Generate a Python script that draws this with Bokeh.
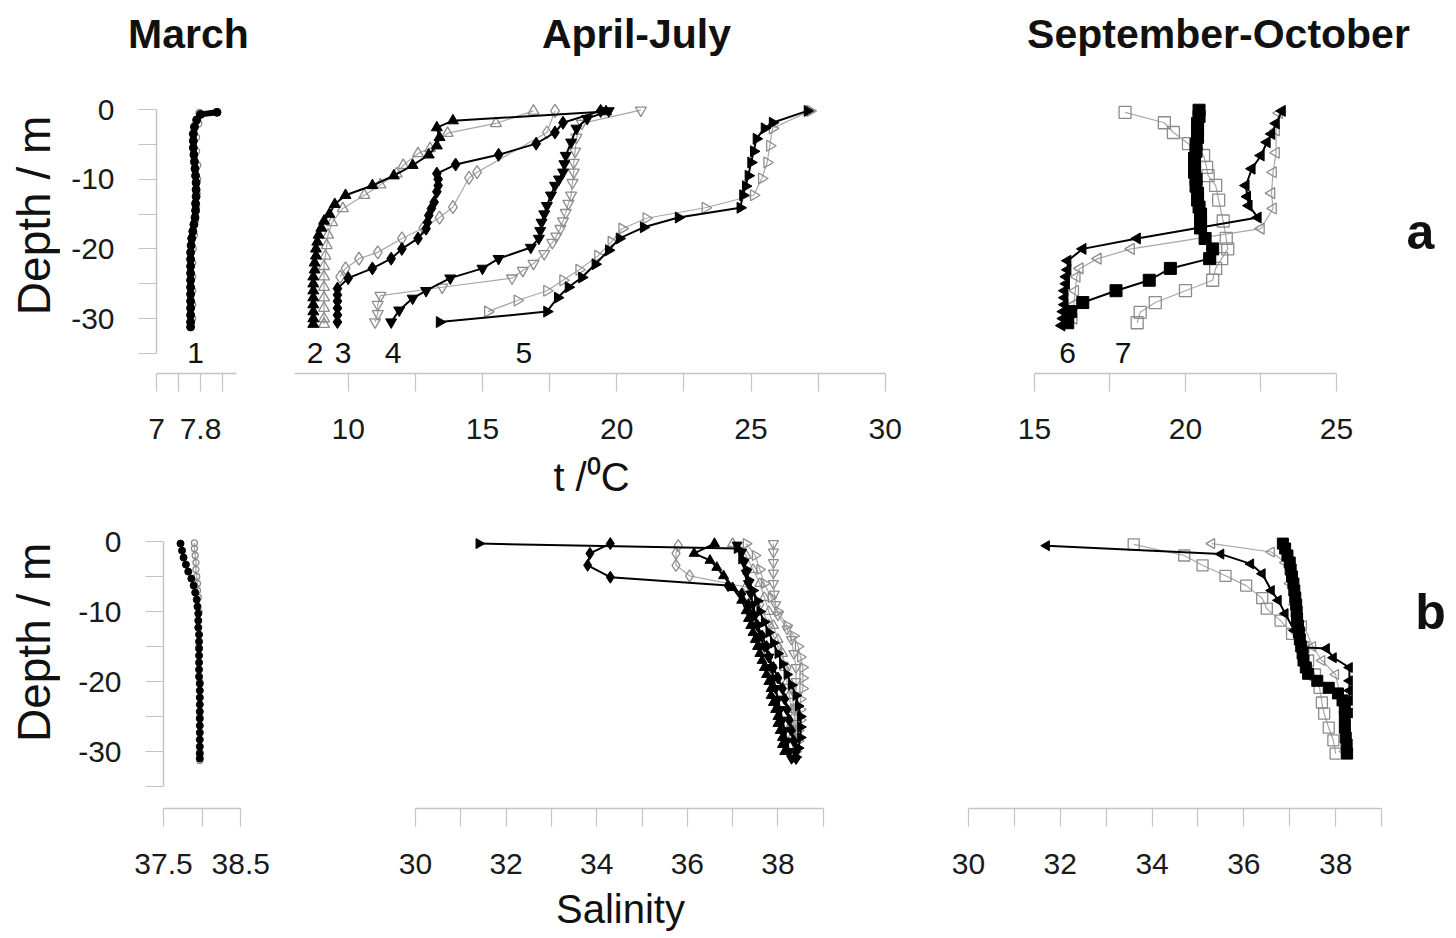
import math
from bokeh.plotting import figure
from bokeh.layouts import column, row
from bokeh.models import Range1d, FixedTicker, Label, NumeralTickFormatter
from bokeh.core.properties import value
from bokeh.embed import file_html
from bokeh.resources import INLINE

FONT = "Liberation Sans"
AXC = "#c4c4c4"

# ---------------- DATA ----------------
# March temperature (profile 1)
mar_t_depth = [-0.4, -0.7, -1.5, -2.5, -3.5, -4.5, -5.5, -6.5, -7.5, -8.5, -9.5, -10.5, -11.5, -12.5, -13.5, -14.5,
               -15.5, -16.5, -17.5, -18.5, -19.5, -20.5, -21.5, -22.5, -23.5, -24.5, -25.5, -26.5, -27.5, -28.5,
               -29.5, -30.5, -31.2]
mar_t_fill = [8.10, 7.80, 7.73, 7.69, 7.67, 7.67, 7.67, 7.68, 7.69, 7.70, 7.71, 7.72, 7.72, 7.72, 7.71, 7.71,
              7.70, 7.68, 7.66, 7.64, 7.63, 7.62, 7.62, 7.62, 7.62, 7.62, 7.62, 7.62, 7.62, 7.62,
              7.62, 7.62, 7.62]
mar_t_depth_o = [-0.5, -2, -4, -6, -8, -10, -12, -14, -16, -18, -20, -22, -24, -26, -28, -30]
mar_t_open = [7.78, 7.76, 7.72, 7.72, 7.74, 7.74, 7.73, 7.72, 7.70, 7.68, 7.66, 7.65, 7.65, 7.65, 7.65, 7.65]

# April-July temperature (profiles 2-5)
apr_t2f_d = [-0.3, -1.6, -2.6, -4.0, -5.2, -6.5, -8.0, -9.5, -10.9, -12.3, -13.6, -15.0, -16.0, -17.0, -18.0, -19.0,
             -20.0, -21.0, -22.0, -23.0, -24.0, -25.0, -26.0, -27.0, -28.0, -29.0, -30.0, -30.8]
apr_t2f = [19.6, 13.9, 13.3, 13.4, 13.3, 13.0, 12.4, 11.7, 10.9, 9.9, 9.5, 9.3, 9.1, 9.0, 8.9, 8.85,
           8.8, 8.8, 8.75, 8.75, 8.7, 8.7, 8.7, 8.7, 8.7, 8.7, 8.7, 8.7]
apr_t2o_d = [-0.2, -2.0, -3.4, -5.6, -6.3, -8.0, -9.2, -10.8, -12.3, -14.2, -16.2, -18.0, -19.5, -21.0, -22.5,
             -24.0, -25.5, -27.0, -28.5, -30.0, -30.8]
apr_t2o = [16.9, 15.5, 13.7, 13.05, 12.6, 12.05, 11.8, 11.2, 10.6, 9.8, 9.4, 9.25, 9.2, 9.15, 9.1,
           9.1, 9.1, 9.1, 9.1, 9.1, 9.1]
apr_t3f_d = [-0.2, -1.9, -3.3, -4.9, -6.5, -7.9, -9.2, -10.0, -10.9, -11.8, -13.3, -14.2, -15.2, -16.2, -17.1,
             -18.5, -20.0, -21.4, -22.8, -24.2, -25.7, -26.6, -27.5, -28.5, -29.5, -30.5]
apr_t3f = [19.4, 18.0, 17.7, 17.0, 15.6, 14.0, 13.3, 13.35, 13.35, 13.3, 13.2, 13.1, 13.0, 12.95, 12.9,
           12.6, 12.0, 11.6, 10.9, 10.0, 9.6, 9.6, 9.6, 9.6, 9.6, 9.6]
apr_t3o_d = [-0.2, -3.3, -9.0, -9.8, -14.0, -15.5, -17.0, -18.5, -20.5, -21.4, -22.8, -24.0]
apr_t3o = [17.7, 17.4, 14.8, 14.5, 13.9, 13.4, 12.8, 12.0, 11.1, 10.4, 9.9, 9.7]
apr_t4f_d = [-0.2, -1.3, -2.7, -4.7, -6.6, -7.8, -9.0, -10.0, -10.9, -12.3, -13.8, -15.0, -16.2, -17.4, -18.5,
             -19.8, -21.4, -22.8, -24.2, -26.0, -27.1, -28.8, -30.5]
apr_t4f = [19.7, 18.9, 18.5, 18.3, 18.1, 18.05, 18.0, 17.85, 17.7, 17.55, 17.4, 17.3, 17.2, 17.15, 17.1,
           16.8, 15.6, 15.0, 13.8, 12.9, 12.4, 11.9, 11.6]
apr_t4o_d = [-0.1, -2.0, -4.0, -6.0, -7.6, -9.0, -10.5, -12.3, -13.5, -14.8, -16.0, -17.1, -18.2, -19.1, -20.7,
             -22.1, -23.1, -24.2, -25.5, -26.7, -28.0, -29.3, -30.5]
apr_t4o = [20.9, 18.7, 18.5, 18.45, 18.4, 18.4, 18.35, 18.3, 18.2, 18.1, 18.0, 17.9, 17.75, 17.6, 17.3,
           16.9, 16.5, 16.1, 13.5, 11.2, 11.1, 11.1, 11.0]
apr_t5f_d = [-0.2, -1.9, -2.7, -4.2, -6.0, -7.6, -9.5, -11.0, -12.3, -14.1, -15.5, -16.9, -18.5, -20.2, -22.2,
             -24.1, -25.5, -27.0, -29.0, -30.5]
apr_t5f = [27.1, 25.8, 25.5, 25.2, 25.1, 25.0, 24.9, 24.8, 24.7, 24.6, 22.3, 21.0, 20.1, 19.7, 19.2,
           18.7, 18.2, 17.8, 17.4, 13.4]
apr_t5o_d = [-0.2, -2.7, -5.2, -7.6, -9.9, -12.3, -14.1, -15.6, -17.1, -19.0, -21.0, -23.0, -24.5, -26.0,
             -27.4, -29.0]
apr_t5o = [27.2, 25.8, 25.7, 25.6, 25.4, 25.1, 23.3, 21.1, 20.2, 19.8, 19.3, 18.6, 18.0, 17.4,
           16.3, 15.2]

# September-October temperature (profiles 6-7)
sep_t6f_d = [-0.2, -2.0, -3.5, -4.7, -6.6, -8.5, -10.9, -12.5, -13.8, -15.5, -18.5, -20.0, -21.7, -23.0, -24.0,
             -25.0, -26.0, -27.0, -28.0, -29.0, -30.0, -31.0]
sep_t6f = [23.2, 23.0, 22.85, 22.7, 22.5, 22.2, 22.0, 22.05, 22.1, 22.4, 18.4, 16.6, 16.1, 16.1, 16.05,
           16.05, 16.0, 16.0, 16.0, 15.95, 15.95, 15.9]
sep_t6o_d = [-0.5, -3.0, -6.2, -9.0, -12.0, -14.2, -17.1, -20.0, -21.4, -22.8, -24.0, -26.0, -28.0, -30.0]
sep_t6o = [23.1, 23.0, 23.0, 22.9, 22.85, 22.9, 22.5, 18.2, 17.1, 16.5, 16.4, 16.35, 16.3, 16.3]
sep_t7f_d = [-0.1, -1.0, -2.0, -3.0, -4.0, -5.0, -6.0, -7.0, -8.0, -9.0, -10.0, -11.0, -12.0, -13.0, -14.0,
             -15.0, -16.0, -17.0, -18.5, -20.0, -21.4, -22.8, -24.5, -26.0, -27.7, -29.0, -30.6]
sep_t7f = [20.45, 20.45, 20.4, 20.4, 20.4, 20.35, 20.35, 20.3, 20.3, 20.3, 20.35, 20.35, 20.4, 20.4, 20.45,
           20.5, 20.5, 20.5, 20.65, 20.9, 20.8, 19.5, 18.8, 17.7, 16.6, 16.2, 16.1]
sep_t7o_d = [-0.4, -1.9, -3.3, -4.9, -6.6, -8.3, -9.5, -10.9, -13.0, -16.0, -18.5, -20.0, -21.4, -22.8, -24.5,
             -26.0, -27.7, -29.1, -30.6]
sep_t7o = [18.0, 19.3, 19.6, 20.1, 20.6, 20.7, 20.75, 21.0, 21.1, 21.25, 21.35, 21.4, 21.2, 21.0, 20.9,
           20.0, 19.0, 18.5, 18.4]

# March salinity
mar_s_depth = [-0.3, -1.3, -2.3, -3.3, -4.3, -5.3, -6.3, -7.3, -8.3, -9.3, -10.3, -11.3, -12.3, -13.3, -14.3,
               -15.3, -16.3, -17.3, -18.3, -19.3, -20.3, -21.3, -22.3, -23.3, -24.3, -25.3, -26.3, -27.3, -28.3,
               -29.3, -30.3, -31.0]
mar_s_fill = [37.72, 37.74, 37.76, 37.79, 37.82, 37.86, 37.89, 37.91, 37.93, 37.94, 37.95, 37.95, 37.95, 37.96,
              37.96, 37.96, 37.96, 37.96, 37.96, 37.96, 37.97, 37.97, 37.97, 37.97, 37.97, 37.97, 37.97, 37.97,
              37.97, 37.97, 37.97, 37.97]
mar_s_depth_o = [-0.2, -1, -2, -3, -4, -5, -6, -7, -8, -10, -15, -20, -25, -30, -31.3]
mar_s_open = [37.9, 37.9, 37.91, 37.92, 37.92, 37.93, 37.94, 37.94, 37.95, 37.96, 37.96, 37.97, 37.97, 37.97, 37.97]

# April-July salinity
apr_s2f_d = [-0.3, -1.7, -2.7, -3.7, -4.9, -6.6, -8.4, -9.9, -11.0, -12.0, -13.0, -14.0, -15.0, -16.0, -17.0,
             -18.0, -19.0, -20.0, -21.0, -22.0, -23.0, -24.0, -25.0, -26.0, -27.0, -28.0, -29.0, -30.0]
apr_s2f = [36.6, 36.15, 36.5, 36.65, 36.8, 37.0, 37.2, 37.3, 37.35, 37.4, 37.45, 37.5, 37.55, 37.6, 37.65,
           37.7, 37.75, 37.8, 37.85, 37.85, 37.9, 37.95, 38.0, 38.0, 38.05, 38.1, 38.1, 38.15]
apr_s2o_d = [-0.3, -2, -4, -6, -8, -10, -12, -14, -16, -18, -20, -22, -24, -26, -28, -30]
apr_s2o = [37.0, 37.3, 37.45, 37.6, 37.7, 37.8, 37.9, 38.0, 38.1, 38.15, 38.2, 38.25, 38.3, 38.3, 38.3, 38.35]
apr_s3f_d = [-0.3, -1.7, -3.4, -5.1, -6.3, -7.5, -9.0, -10.5, -12.0, -13.5, -15.0, -16.5, -18.0, -19.5, -21.0,
             -22.5, -24.0, -25.5, -27.0, -28.5, -30.0, -31.0]
apr_s3f = [34.3, 33.85, 33.8, 34.3, 36.9, 37.2, 37.35, 37.45, 37.55, 37.65, 37.75, 37.8, 37.9, 38.0, 38.1,
           38.15, 38.2, 38.25, 38.3, 38.35, 38.4, 38.4]
apr_s3o_d = [-0.6, -1.7, -3.4, -4.9, -6.5, -9, -12, -15, -18, -21, -24, -27, -30]
apr_s3o = [35.8, 35.75, 35.75, 36.05, 37.3, 37.6, 37.8, 38.0, 38.2, 38.3, 38.35, 38.4, 38.4]
apr_s4f_d = [-0.5, -1.5, -3.0, -4.5, -6.0, -7.5, -9.0, -10.5, -12.0, -13.5, -15.0, -16.5, -18.0, -19.5, -21.0,
             -22.5, -24.0, -25.5, -27.0, -28.5, -30.0, -31.0]
apr_s4f = [37.1, 37.2, 37.25, 37.3, 37.35, 37.4, 37.45, 37.5, 37.55, 37.6, 37.7, 37.8, 37.85, 37.9, 37.95,
           38.0, 38.05, 38.1, 38.15, 38.2, 38.25, 38.3]
apr_s4o_d = [-0.3, -1.5, -3, -4.5, -6, -7.5, -9, -10.5, -12.5, -14, -16, -18, -20, -22, -24, -26, -28, -30]
apr_s4o = [37.9, 37.9, 37.9, 37.9, 37.9, 37.92, 37.95, 38.0, 38.2, 38.3, 38.35, 38.4, 38.4, 38.4, 38.4, 38.4,
           38.4, 38.35]
apr_s5f_d = [-0.3, -1.0, -2.5, -4.0, -5.5, -7.0, -8.5, -10.0, -11.5, -13.0, -14.5, -16.0, -17.5, -19.0, -20.5,
             -22.0, -23.5, -25.0, -26.5, -28.0, -29.5, -30.8]
apr_s5f = [31.4, 37.1, 37.2, 37.3, 37.35, 37.45, 37.55, 37.6, 37.7, 37.8, 37.9, 38.0, 38.1, 38.2, 38.3,
           38.4, 38.45, 38.5, 38.5, 38.5, 38.45, 38.4]
apr_s5o_d = [-0.3, -2, -4, -6, -8, -10, -12, -13.5, -15, -16.5, -18, -19.5, -21, -22.5, -24, -25.5, -27, -28.5, -30]
apr_s5o = [37.3, 37.5, 37.6, 37.7, 37.85, 38.0, 38.2, 38.35, 38.45, 38.5, 38.55, 38.55, 38.55, 38.5, 38.5,
           38.5, 38.45, 38.45, 38.4]

# September-October salinity
sep_s6f_d = [-0.6, -1.8, -3.2, -4.6, -7.0, -8.4, -10.3, -12.7, -15.1, -15.3, -16.6, -18.0, -19.9, -21.3, -22.7,
             -24.5, -26.6, -28.5, -30.3]
sep_s6f = [31.7, 35.5, 36.15, 36.4, 36.6, 36.75, 36.9, 37.1, 37.25, 37.8, 37.95, 38.3, 38.3, 38.3, 38.3,
           38.3, 38.25, 38.25, 38.25]
sep_s6o_d = [-0.3, -1.5, -3, -6, -9, -12, -15, -17, -19, -22, -26, -30]
sep_s6o = [35.3, 36.6, 36.9, 37.0, 37.1, 37.3, 37.5, 37.7, 38.0, 38.1, 38.2, 38.2]
sep_s7f_d = [-0.3, -1.0, -2.0, -3.0, -4.0, -5.0, -6.0, -7.0, -8.0, -9.0, -10.0, -11.0, -12.0, -13.0, -14.0,
             -15.0, -16.0, -17.0, -18.0, -18.9, -19.9, -20.9, -21.7, -22.7, -23.7, -25.0, -26.6, -28.0, -29.0, -30.3]
sep_s7f = [36.85, 36.9, 36.95, 37.0, 37.02, 37.05, 37.08, 37.1, 37.12, 37.14, 37.15, 37.16, 37.18, 37.2, 37.22,
           37.25, 37.28, 37.3, 37.35, 37.4, 37.6, 37.85, 38.05, 38.15, 38.2, 38.2, 38.2, 38.22, 38.24, 38.25]
sep_s7o_d = [-0.4, -2.0, -3.4, -4.9, -6.3, -8.1, -9.6, -11.3, -13.2, -15.1, -17.0, -19.0, -20.9, -23.0, -24.6,
             -26.6, -28.4, -30.3]
sep_s7o = [33.6, 34.7, 35.1, 35.6, 36.05, 36.4, 36.5, 36.8, 37.05, 37.3, 37.4, 37.55, 37.65, 37.7, 37.75,
           37.85, 37.95, 38.0]

# profile number labels (placed at depth -35)
num_depth = -35.0
num_mar_text = ["1"]
num_mar_x = [7.71]
num_apr_text = ["2", "3", "4", "5"]
num_apr_x = [8.77, 9.81, 11.67, 16.54]
num_sep_text = ["6", "7"]
num_sep_x = [16.1, 17.93]

# column titles
col_titles = ["March", "April-July", "September-October"]

# axis ticks
depth_major = [0, -10, -20, -30]
depth_minor = [-5, -15, -25, -35]
mar_t_major = [7, 7.8]
mar_t_minor = [7.4, 8.2]
apr_t_major = [10, 15, 20, 25, 30]
apr_t_minor = [12.5, 17.5, 22.5, 27.5]
sep_t_major = [15, 20, 25]
sep_t_minor = [17.5, 22.5]
mar_s_major = [37.5, 38.5]
mar_s_minor = [38.0]
sal_major = [30, 32, 34, 36, 38]
sal_minor = [31, 33, 35, 37, 39]


# ---------------- HELPERS ----------------
def make_fig(w, h, xr, yr, bl, br, bt, bb, yaxis, xaxis=True):
    p = figure(width=w, height=h, x_range=Range1d(*xr), y_range=Range1d(*yr),
               output_backend="svg", toolbar_location=None,
               y_axis_location="left" if yaxis else None,
               x_axis_location="below" if xaxis else None,
               min_border_left=bl, min_border_right=br, min_border_top=bt, min_border_bottom=bb)
    p.grid.visible = False
    p.outline_line_color = None
    return p


def style_axis(ax, major, minor, bounds, standoff, fmt="0.[0]"):
    ax.ticker = FixedTicker(ticks=major, minor_ticks=minor)
    ax.formatter = NumeralTickFormatter(format=fmt)
    ax.bounds = bounds
    ax.axis_line_color = AXC
    ax.axis_line_width = 1.5
    ax.major_tick_line_color = AXC
    ax.minor_tick_line_color = AXC
    ax.major_tick_line_width = 1.2
    ax.minor_tick_line_width = 1.2
    ax.major_tick_out = 18
    ax.major_tick_in = 0
    ax.minor_tick_out = 18
    ax.minor_tick_in = 0
    ax.major_label_text_font = FONT
    ax.major_label_text_font_size = "30px"
    ax.major_label_text_color = "#1a1a1a"
    ax.major_label_standoff = standoff


def axis_title(ax, text, standoff):
    ax.axis_label = text
    ax.axis_label_text_font = FONT
    ax.axis_label_text_font_size = "40px"
    ax.axis_label_text_font_style = "normal"
    ax.axis_label_text_color = "#111111"
    ax.axis_label_standoff = standoff


def series(p, xs, ys, marker, filled, size=10, angle=0.0):
    if filled:
        p.line(xs, ys, line_color="black", line_width=2.0)
        p.scatter(xs, ys, marker=marker, size=size, angle=angle, fill_color="black", line_color="black")
    else:
        p.line(xs, ys, line_color="#a8a8a8", line_width=1.2)
        p.scatter(xs, ys, marker=marker, size=size, angle=angle, fill_color="white", fill_alpha=0.0,
                  line_color="#8c8c8c", line_width=1.3)


def label(p, x, y, text, size, bold=False, angle=0.0):
    p.add_layout(Label(x=x, y=y, text=text, text_font=FONT, text_font_size=size,
                       text_font_style="bold" if bold else "normal", text_color="#111111",
                       text_align="center", text_baseline="middle", angle=angle))


def numbers(p, xs, texts):
    p.text(x=xs, y=[num_depth] * len(xs), text=texts, text_font=value(FONT), text_font_size="30px",
           text_align="center", text_baseline="middle", text_color="#111111")


RIGHT = -math.pi / 2
LEFT = math.pi / 2

# ---------------- HEADER (column titles) ----------------
HEAD_H = 70
head = make_fig(1456, HEAD_H, (0, 1456), (0, HEAD_H), 0, 0, 0, 0, False, False)
for t, hx in zip(col_titles, [188, 636, 1218]):
    label(head, hx, HEAD_H - 33, t, "41px", bold=True)

# ---------------- TOP ROW (temperature) ----------------
TOP_H = 440
TOP_Y = (-37.88, 2.01)
TB, BB = 25, 137
l1 = make_fig(60, TOP_H, (0, 60), TOP_Y, 0, 0, TB, BB, False, False)
label(l1, 33, -15.2, "Depth / m", "46px", angle=math.pi / 2)

f1 = make_fig(200, TOP_H, (7.0, 8.709), TOP_Y, 96, 10, TB, BB, True)
style_axis(f1.xaxis[0], mar_t_major, mar_t_minor, (7.0, 8.45), 27)
style_axis(f1.yaxis[0], depth_major, depth_minor, (-35, 0), 24, fmt="0")
series(f1, mar_t_open, mar_t_depth_o, "circle", False, size=7)
f1.line(mar_t_fill, mar_t_depth, line_color="black", line_width=6)
f1.scatter(mar_t_fill, mar_t_depth, marker="circle", size=8, fill_color="black", line_color="black")
numbers(f1, num_mar_x, num_mar_text)

f2 = make_fig(700, TOP_H, (8.0, 30.12), TOP_Y, 34, 72, TB, BB, False)
style_axis(f2.xaxis[0], apr_t_major, apr_t_minor, (8.0, 30.0), 27)
axis_title(f2.xaxis[0], "t /\u2070C", 13)
series(f2, apr_t2o, apr_t2o_d, "triangle", False, 11)
series(f2, apr_t3o, apr_t3o_d, "diamond", False, 13)
series(f2, apr_t4o, apr_t4o_d, "inverted_triangle", False, 11)
series(f2, apr_t5o, apr_t5o_d, "triangle", False, 11, RIGHT)
series(f2, apr_t2f, apr_t2f_d, "triangle", True, 11)
series(f2, apr_t3f, apr_t3f_d, "diamond", True, 13)
series(f2, apr_t4f, apr_t4f_d, "inverted_triangle", True, 11)
series(f2, apr_t5f, apr_t5f_d, "triangle", True, 11, RIGHT)
numbers(f2, num_apr_x, num_apr_text)

f3 = make_fig(496, TOP_H, (15.0, 28.91), TOP_Y, 74, 2, TB, BB, False)
style_axis(f3.xaxis[0], sep_t_major, sep_t_minor, (15.0, 25.0), 27)
series(f3, sep_t6o, sep_t6o_d, "triangle", False, 11, LEFT)
series(f3, sep_t7o, sep_t7o_d, "square", False, 12)
series(f3, sep_t6f, sep_t6f_d, "triangle", True, 11, LEFT)
series(f3, sep_t7f, sep_t7f_d, "square", True, 12)
numbers(f3, num_sep_x, num_sep_text)
label(f3, 27.78, -17.6, "a", "50px", bold=True)

# ---------------- BOTTOM ROW (salinity) ----------------
BOT_H = 428
BOT_Y = (-38.14, 2.0)
TB2, BB2 = 17, 130
l2 = make_fig(60, BOT_H, (0, 60), BOT_Y, 0, 0, TB2, BB2, False, False)
label(l2, 33, -14.4, "Depth / m", "46px", angle=math.pi / 2)

f4 = make_fig(220, BOT_H, (37.5, 38.82), BOT_Y, 103, 15, TB2, BB2, True)
style_axis(f4.xaxis[0], mar_s_major, mar_s_minor, (37.5, 38.5), 27)
style_axis(f4.yaxis[0], depth_major, depth_minor, (-35, 0), 24, fmt="0")
series(f4, mar_s_open, mar_s_depth_o, "circle", False, size=6)
f4.line(mar_s_fill, mar_s_depth, line_color="black", line_width=1.5)
f4.scatter(mar_s_fill, mar_s_depth, marker="circle", size=7, fill_color="black", line_color="black")

f5 = make_fig(620, BOT_H, (30.0, 39.05), BOT_Y, 135, 75, TB2, BB2, False)
style_axis(f5.xaxis[0], sal_major, sal_minor, (30.0, 39.0), 27)
axis_title(f5.xaxis[0], "Salinity", 10)
series(f5, apr_s2o, apr_s2o_d, "triangle", False, 10)
series(f5, apr_s3o, apr_s3o_d, "diamond", False, 12)
series(f5, apr_s4o, apr_s4o_d, "inverted_triangle", False, 10)
series(f5, apr_s5o, apr_s5o_d, "triangle", False, 10, RIGHT)
series(f5, apr_s2f, apr_s2f_d, "triangle", True, 10)
series(f5, apr_s3f, apr_s3f_d, "diamond", True, 12)
series(f5, apr_s4f, apr_s4f_d, "inverted_triangle", True, 10)
series(f5, apr_s5f, apr_s5f_d, "triangle", True, 10, RIGHT)

f6 = make_fig(556, BOT_H, (30.0, 40.59), BOT_Y, 68, 2, TB2, BB2, False)
style_axis(f6.xaxis[0], sal_major, sal_minor, (30.0, 39.0), 27)
series(f6, sep_s6o, sep_s6o_d, "triangle", False, 10, LEFT)
series(f6, sep_s7o, sep_s7o_d, "square", False, 11)
series(f6, sep_s6f, sep_s6f_d, "triangle", True, 10, LEFT)
series(f6, sep_s7f, sep_s7f_d, "square", True, 11)
label(f6, 40.07, -10.1, "b", "50px", bold=True)

layout = column(head, row(l1, f1, f2, f3), row(l2, f4, f5, f6))
open("out.html", "w").write(file_html(layout, INLINE))
